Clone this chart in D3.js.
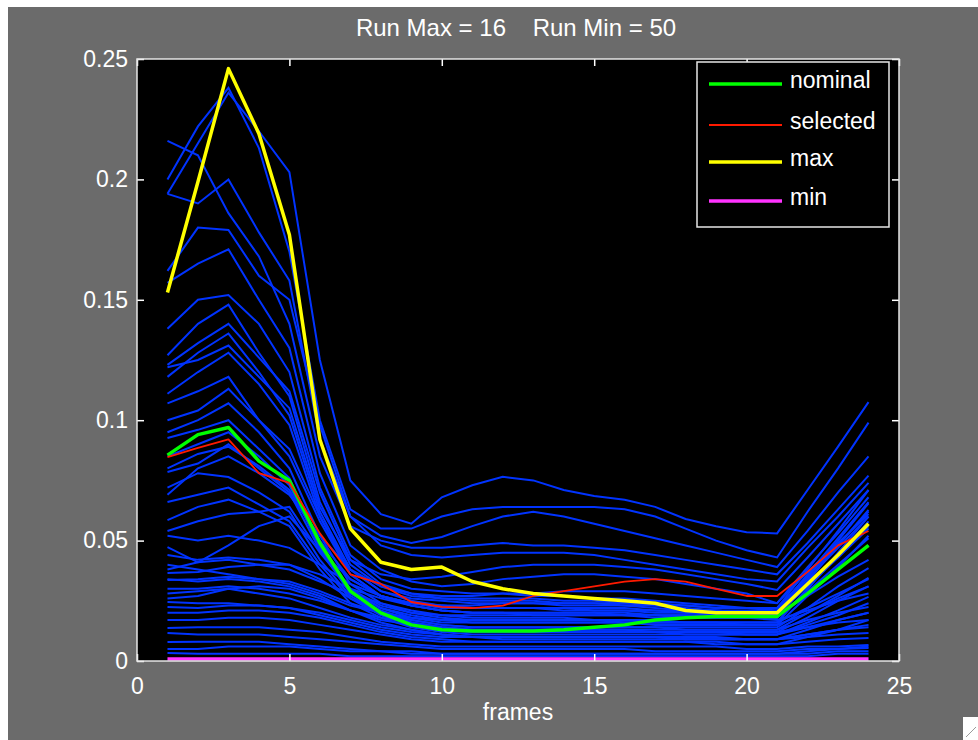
<!DOCTYPE html>
<html>
<head>
<meta charset="utf-8">
<script src="https://d3js.org/d3.v7.min.js"></script>
<style>
  body { margin: 0; background: #ffffff; }
  text { font-family: "Liberation Sans", Arial, sans-serif; }
</style>
</head>
<body>
<div id="chart"></div>
<script>
// frame numbers on the x axis
var frames = [1, 2, 3, 4, 5, 6, 7, 8, 9, 10, 11, 12, 13, 14, 15, 16, 17, 18, 19, 20, 21, 22, 23, 24];

// highlighted runs
var nominal  = [0.0855, 0.094, 0.097, 0.083, 0.075, 0.049, 0.029, 0.020, 0.015, 0.013, 0.0125, 0.0125, 0.0125, 0.013, 0.014, 0.015, 0.017, 0.018, 0.0185, 0.0185, 0.0185, 0.028, 0.038, 0.048];
var selected = [0.0847, 0.0885, 0.092, 0.078, 0.074, 0.053, 0.036, 0.032, 0.0245, 0.0225, 0.022, 0.023, 0.027, 0.029, 0.031, 0.033, 0.034, 0.033, 0.030, 0.027, 0.027, 0.037, 0.048, 0.054];
var maxRun   = [0.153, 0.199, 0.246, 0.219, 0.177, 0.092, 0.055, 0.041, 0.038, 0.039, 0.033, 0.030, 0.028, 0.027, 0.026, 0.025, 0.024, 0.021, 0.020, 0.020, 0.020, 0.032, 0.044, 0.057];
var minRun   = [0.0008, 0.0008, 0.0008, 0.0008, 0.0008, 0.0008, 0.0008, 0.0008, 0.0008, 0.0008, 0.0008, 0.0008, 0.0008, 0.0008, 0.0008, 0.0008, 0.0008, 0.0008, 0.0008, 0.0008, 0.0008, 0.0008, 0.0008, 0.0008];

// all other runs (blue)
var runs = [
  [.216,.210,.186,.168,.140,.085,.056,.050,.047,.047,.048,.049,.048,.048,.047,.046,.044,.042,.040,.038,.036,.049,.063,.077],
  [.200,.222,.238,.213,.170,.100,.063,.055,.055,.060,.063,.064,.064,.064,.064,.063,.060,.055,.050,.046,.043,.062,.080,.099],
  [.194,.215,.236,.220,.203,.125,.075,.061,.057,.068,.073,.0765,.075,.071,.0685,.067,.064,.059,.056,.0535,.053,.071,.089,.1075],
  [.194,.190,.200,.178,.158,.092,.060,.052,.049,.0515,.056,.060,.062,.060,.057,.054,.051,.048,.045,.042,.039,.054,.070,.085],
  [.162,.180,.179,.160,.150,.098,.060,.048,.044,.043,.044,.045,.045,.045,.044,.042,.040,.038,.036,.034,.033,.047,.060,.074],
  [.157,.165,.171,.150,.130,.078,.048,.038,.033,.031,.032,.034,.035,.036,.036,.035,.034,.032,.030,.028,.024,.039,.053,.068],
  [.138,.150,.152,.140,.120,.072,.044,.034,.030,.029,.028,.028,.027,.027,.026,.026,.025,.024,.023,.022,.022,.035,.048,.062],
  [.127,.140,.148,.128,.110,.066,.040,.031,.027,.026,.025,.025,.025,.024,.024,.023,.023,.022,.021,.021,.021,.036,.051,.066],
  [.123,.132,.140,.126,.112,.070,.042,.032,.028,.026,.026,.026,.026,.025,.025,.024,.024,.023,.022,.022,.022,.038,.054,.071],
  [.118,.128,.136,.120,.102,.062,.038,.029,.026,.025,.024,.024,.024,.023,.023,.023,.022,.021,.021,.020,.020,.034,.047,.060],
  [.122,.125,.131,.118,.105,.064,.042,.036,.034,.035,.037,.039,.040,.040,.040,.039,.038,.036,.034,.032,.0295,.043,.057,.071],
  [.111,.120,.128,.115,.098,.060,.036,.027,.024,.023,.022,.022,.022,.021,.021,.021,.020,.020,.019,.019,.019,.031,.043,.056],
  [.107,.112,.118,.100,.085,.058,.036,.027,.023,.021,.020,.020,.020,.020,.020,.020,.019,.019,.018,.018,.018,.029,.040,.051],
  [.095,.100,.107,.095,.080,.052,.032,.024,.020,.018,.017,.017,.017,.017,.017,.017,.016,.016,.016,.016,.016,.030,.044,.058],
  [.0926,.096,.100,.088,.076,.048,.030,.022,.019,.017,.016,.016,.016,.016,.016,.016,.015,.015,.015,.015,.015,.027,.039,.052],
  [.0785,.082,.090,.080,.070,.046,.028,.021,.017,.015,.014,.014,.014,.014,.014,.014,.014,.014,.014,.014,.014,.022,.031,.0386],
  [.072,.078,.0764,.070,.062,.042,.027,.020,.016,.014,.013,.013,.013,.013,.013,.013,.013,.013,.013,.013,.013,.020,.027,.0345],
  [.066,.069,.072,.065,.058,.040,.026,.019,.015,.013,.012,.012,.012,.012,.012,.012,.012,.012,.012,.012,.012,.018,.025,.031],
  [.0585,.064,.067,.062,.056,.038,.024,.018,.014,.012,.011,.011,.011,.011,.011,.011,.011,.011,.011,.011,.011,.016,.021,.0266],
  [.054,.058,.061,.062,.064,.045,.030,.023,.020,.019,.019,.019,.019,.019,.019,.019,.019,.018,.018,.018,.018,.033,.048,.0627],
  [.100,.104,.113,.100,.088,.060,.038,.029,.025,.023,.022,.022,.022,.022,.022,.022,.021,.021,.021,.020,.020,.035,.050,.0655],
  [.085,.090,.095,.085,.073,.047,.029,.022,.018,.016,.016,.016,.016,.016,.016,.016,.016,.016,.016,.016,.016,.030,.045,.060],
  [.080,.086,.089,.081,.071,.050,.034,.027,.024,.023,.023,.024,.024,.024,.024,.024,.023,.023,.022,.022,.021,.032,.043,.055],
  [.069,.080,.085,.078,.069,.052,.038,.031,.028,.027,.027,.028,.028,.029,.029,.029,.028,.027,.026,.025,.024,.037,.049,.061],
  [.0473,.041,.042,.040,.038,.033,.028,.024,.021,.019,.018,.018,.018,.018,.017,.017,.017,.016,.016,.016,.016,.022,.028,.034],
  [.038,.041,.048,.056,.060,.046,.034,.027,.023,.021,.020,.020,.020,.020,.020,.019,.019,.019,.019,.018,.018,.028,.038,.048],
  [.0365,.037,.039,.040,.040,.036,.030,.026,.023,.021,.020,.020,.019,.019,.019,.019,.018,.018,.018,.018,.017,.021,.025,.028],
  [.0336,.034,.035,.034,.033,.029,.024,.020,.017,.015,.014,.014,.014,.014,.014,.014,.014,.013,.013,.013,.013,.017,.020,.0224],
  [.030,.030,.031,.030,.028,.025,.021,.017,.015,.013,.012,.012,.012,.012,.012,.012,.012,.012,.012,.011,.011,.014,.017,.020],
  [.026,.027,.030,.031,.030,.026,.021,.018,.016,.014,.013,.013,.013,.013,.013,.013,.012,.012,.012,.012,.012,.014,.016,.017],
  [.0245,.024,.024,.023,.022,.019,.016,.013,.011,.010,.010,.010,.010,.010,.010,.010,.010,.010,.010,.009,.009,.011,.013,.014],
  [.0224,.022,.023,.023,.022,.020,.017,.014,.012,.011,.010,.010,.010,.010,.010,.010,.010,.009,.009,.009,.009,.010,.011,.0116],
  [.017,.017,.018,.018,.017,.015,.013,.011,.009,.008,.008,.008,.008,.008,.008,.008,.008,.008,.007,.007,.007,.008,.009,.0095],
  [.0137,.014,.014,.014,.013,.012,.010,.008,.007,.006,.006,.006,.006,.006,.006,.006,.006,.006,.006,.005,.005,.006,.006,.0066],
  [.0116,.011,.011,.011,.010,.009,.008,.007,.006,.005,.005,.005,.005,.005,.005,.005,.004,.004,.004,.004,.004,.005,.005,.0054],
  [.0079,.008,.008,.008,.007,.006,.005,.004,.004,.003,.003,.003,.003,.003,.003,.003,.003,.003,.003,.003,.003,.003,.004,.004],
  [.0033,.003,.003,.003,.003,.003,.002,.002,.002,.002,.002,.002,.002,.002,.002,.002,.002,.002,.002,.002,.002,.002,.003,.003],
  [.040,.038,.036,.034,.032,.028,.023,.020,.018,.017,.017,.017,.017,.017,.017,.016,.016,.016,.016,.015,.015,.020,.026,.031],
  [.052,.050,.052,.050,.047,.040,.032,.027,.024,.022,.022,.022,.022,.022,.021,.021,.021,.020,.020,.020,.019,.027,.035,.042],
  [.028,.029,.030,.028,.026,.022,.018,.015,.013,.011,.010,.010,.010,.010,.010,.010,.010,.009,.009,.009,.009,.011,.013,.015],
  [.005,.005,.006,.006,.006,.005,.004,.004,.003,.003,.003,.003,.003,.003,.003,.003,.003,.003,.003,.003,.003,.004,.005,.006],
  [.020,.020,.021,.021,.020,.018,.015,.012,.010,.009,.008,.008,.008,.008,.008,.008,.008,.008,.008,.007,.007,.010,.013,.017],
  [.034,.033,.034,.033,.031,.027,.021,.016,.013,.011,.010,.009,.009,.009,.009,.009,.009,.009,.009,.009,.009,.013,.017,.020],
  [.044,.042,.043,.042,.040,.034,.026,.020,.016,.014,.013,.012,.012,.012,.012,.012,.012,.011,.011,.011,.011,.015,.019,.024]
];

var xTicks = [0, 5, 10, 15, 20, 25];
var yTicks = [0, 0.05, 0.1, 0.15, 0.2, 0.25];
var yTickLabels = ["0", "0.05", "0.1", "0.15", "0.2", "0.25"];
var legendNames = ["nominal", "selected", "max", "min"];
var legendColors = ["#00ff00", "#ff1a00", "#ffff00", "#ff33ff"];
var legendWidths = [3.5, 1.8, 3.5, 3.5];
var titleText = "Run Max = 16    Run Min = 50";
var xLabel = "frames";

var svgWidth = 978;
var svgHeight = 740;

var margin = {
  top: 59,
  right: 79,
  bottom: 79,
  left: 137
};

var chartWidth = svgWidth - margin.left - margin.right;
var chartHeight = svgHeight - margin.top - margin.bottom;

var svg = d3.select("#chart")
  .append("svg")
  .attr("width", svgWidth)
  .attr("height", svgHeight)
  .style("display", "block");

// gray figure background
svg.append("rect")
  .attr("x", 8)
  .attr("y", 7)
  .attr("width", svgWidth - 8)
  .attr("height", svgHeight - 7)
  .attr("fill", "#6b6b6b");

var chartGroup = svg.append("g")
  .attr("transform", `translate(${margin.left}, ${margin.top})`);

// black axes area
chartGroup.append("rect")
  .attr("width", chartWidth)
  .attr("height", chartHeight)
  .attr("fill", "#000000");

var xScale = d3.scaleLinear()
  .domain([0, 25])
  .range([0, chartWidth]);

var yScale = d3.scaleLinear()
  .domain([0, 0.25])
  .range([chartHeight, 0]);

var runLine = d3.line()
  .x((d, i) => xScale(frames[i]))
  .y(d => yScale(d));

// clip so nothing spills outside the axes box
chartGroup.append("clipPath")
  .attr("id", "plotClip")
  .append("rect")
  .attr("width", chartWidth)
  .attr("height", chartHeight);

var plotGroup = chartGroup.append("g")
  .attr("clip-path", "url(#plotClip)");

plotGroup.selectAll(".run")
  .data(runs)
  .enter()
  .append("path")
  .attr("class", "run")
  .attr("d", runLine)
  .attr("fill", "none")
  .attr("stroke", "#0033ff")
  .attr("stroke-width", 2);

// highlighted runs, in legend order
var special = [nominal, selected, maxRun, minRun];
special.forEach(function(series, i) {
  plotGroup.append("path")
    .datum(series)
    .attr("d", runLine)
    .attr("fill", "none")
    .attr("stroke", legendColors[i])
    .attr("stroke-width", legendWidths[i])
    .attr("stroke-linejoin", "round");
});

// axes: ticks point inward, labels only on bottom and left
var bottomAxis = d3.axisBottom(xScale)
  .tickValues(xTicks)
  .tickSizeInner(-7)
  .tickSizeOuter(0)
  .tickPadding(17);

var leftAxis = d3.axisLeft(yScale)
  .tickValues(yTicks)
  .tickFormat((d, i) => yTickLabels[i])
  .tickSizeInner(-7)
  .tickSizeOuter(0)
  .tickPadding(9);

var topAxis = d3.axisTop(xScale)
  .tickValues(xTicks)
  .tickFormat("")
  .tickSizeInner(-7)
  .tickSizeOuter(0);

var rightAxis = d3.axisRight(yScale)
  .tickValues(yTicks)
  .tickFormat("")
  .tickSizeInner(-7)
  .tickSizeOuter(0);

chartGroup.append("g")
  .attr("transform", `translate(0, ${chartHeight})`)
  .call(bottomAxis);

chartGroup.append("g")
  .call(leftAxis);

chartGroup.append("g")
  .call(topAxis);

chartGroup.append("g")
  .attr("transform", `translate(${chartWidth}, 0)`)
  .call(rightAxis);

chartGroup.selectAll(".domain").remove();
chartGroup.selectAll(".tick line")
  .attr("stroke", "#ffffff")
  .attr("stroke-width", 1.5);
chartGroup.selectAll(".tick text")
  .attr("fill", "#ffffff")
  .attr("font-size", "23px")
  .attr("font-family", "Liberation Sans, Arial, sans-serif");

// axes box
chartGroup.append("rect")
  .attr("width", chartWidth)
  .attr("height", chartHeight)
  .attr("fill", "none")
  .attr("stroke", "#e6e6e6")
  .attr("stroke-width", 1.5);

// legend
var legend = svg.append("g")
  .attr("transform", "translate(697, 62)");

legend.append("rect")
  .attr("width", 192)
  .attr("height", 165)
  .attr("fill", "#000000")
  .attr("stroke", "#e6e6e6")
  .attr("stroke-width", 1.5);

var legendRows = [22, 63, 100, 139];

legendNames.forEach(function(name, i) {
  legend.append("line")
    .attr("x1", 12)
    .attr("x2", 85)
    .attr("y1", legendRows[i])
    .attr("y2", legendRows[i])
    .attr("stroke", legendColors[i])
    .attr("stroke-width", legendWidths[i]);

  legend.append("text")
    .attr("x", 93)
    .attr("y", legendRows[i] + 4)
    .attr("fill", "#ffffff")
    .attr("font-size", "23px")
    .text(name);
});

// title
svg.append("text")
  .attr("x", 516)
  .attr("y", 36)
  .attr("text-anchor", "middle")
  .attr("fill", "#ffffff")
  .attr("font-size", "24px")
  .style("white-space", "pre")
  .text(titleText);

// x axis label
svg.append("text")
  .attr("x", margin.left + chartWidth / 2)
  .attr("y", 720)
  .attr("text-anchor", "middle")
  .attr("fill", "#ffffff")
  .attr("font-size", "23px")
  .text(xLabel);

// window resize grip in the corner
svg.append("rect")
  .attr("x", 963)
  .attr("y", 717)
  .attr("width", 15)
  .attr("height", 23)
  .attr("fill", "#ffffff");

svg.append("line")
  .attr("x1", 966)
  .attr("y1", 737)
  .attr("x2", 976)
  .attr("y2", 727)
  .attr("stroke", "#9a9a9a")
  .attr("stroke-width", 1);
</script>
</body>
</html>
